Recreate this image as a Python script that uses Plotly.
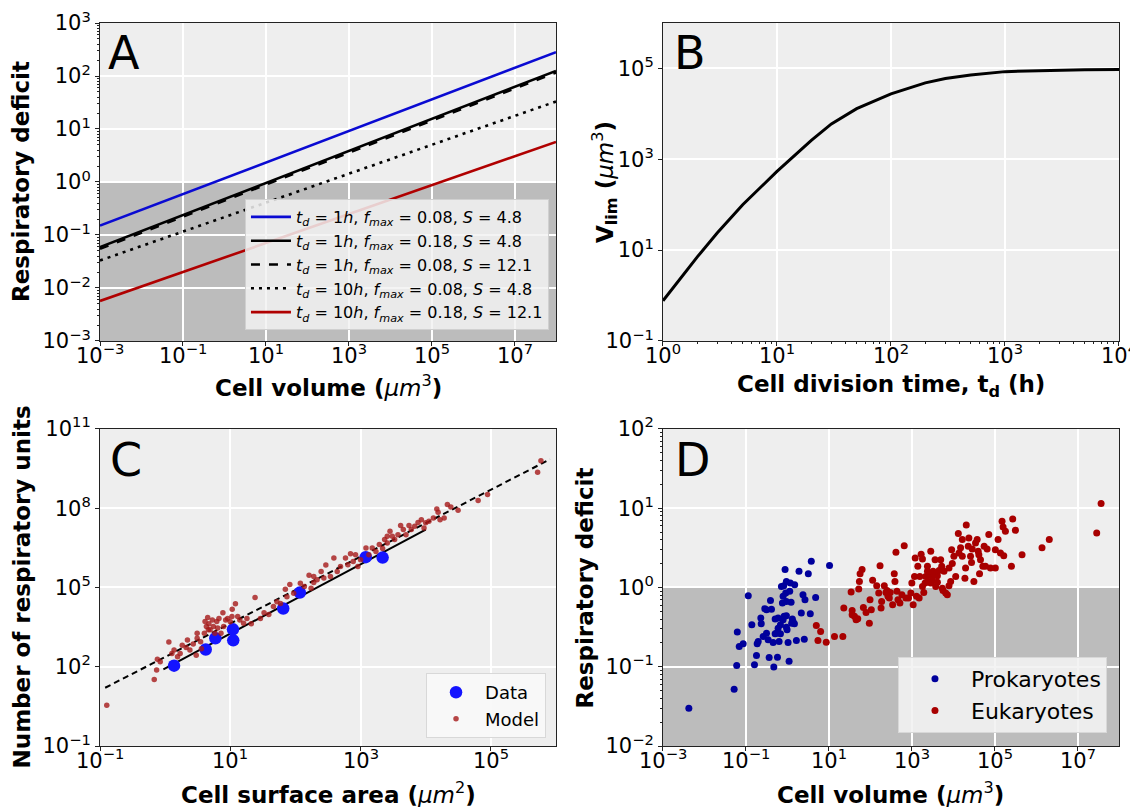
import math
import plotly.graph_objects as go

# ---------------- Panel A : respiratory deficit vs cell volume (straight lines in log-log)
vol_ends = [1e-3, 1e8]
def_td1_f008_s48 = [0.15, 282]
def_td1_f018_s48 = [0.059, 125]
def_td1_f008_s121 = [0.055, 116]
def_td10_f008_s48 = [0.033, 33]
def_td10_f018_s121 = [0.0057, 5.7]

# ---------------- Panel B : V_lim vs division time
td_hours = [1, 2, 3, 5, 10, 20, 30, 50, 100, 200, 300, 500, 1000, 2000, 3000, 5000, 10000]
v_lim = [0.77, 7.1, 24, 100, 540, 2600, 6000, 13000, 27500, 48000, 60000, 72000,
         85000, 90000, 91000, 94000, 95000]

# ---------------- Panel C : respiratory units vs surface area
data_area = [1.37, 4.2, 5.9, 11, 11.1, 65, 117, 1200, 2180]
data_units = [110, 450, 1200, 2600, 1000, 16000, 64000, 1.4e6, 1.35e6]

model_area = [0.127, 0.68, 0.74, 0.76, 0.84, 1.14, 1.37, 1.55, 1.7, 1.83, 2.2, 2.4, 2.7, 3.0,
              3.1, 3.5, 3.6, 4.0, 4.3, 4.5, 4.7, 4.9, 5.3, 5.5, 5.8, 6.2, 6.7, 7.2, 7.7, 8.5,
              9.1, 10, 10.7, 12, 13, 14, 16, 18, 21, 24, 29, 33, 39, 46, 52, 59, 70, 74, 82,
              94, 119, 137, 162, 174, 191, 215, 248, 273, 293, 345, 389, 438, 492, 587, 638,
              701, 771, 837, 910, 1000, 1210, 1340, 1510, 1720, 1940, 2180, 2340, 2570, 2830,
              3070, 3330, 3750, 4120, 4530, 4980, 5540, 6010, 6780, 7620, 8570, 9420, 10000,
              11200, 13100, 14800, 15500, 16600, 19200, 21500, 24300, 31400, 63800, 89000,
              522000, 587000, 4.1, 4.6, 6.4, 7.9, 10.6, 3.1, 2.1, 1.27, 191, 2570]
model_units = [3.5, 33, 75, 190, 155, 860, 430, 240, 320, 650, 1030, 430, 730, 270, 1200, 890,
               480, 1850, 3300, 7300, 4200, 2500, 5900, 3300, 1850, 5100, 6700, 1850, 11000,
               5900, 6700, 5000, 15000, 24000, 7900, 5900, 4400, 6700, 4200, 42000, 6700,
               11000, 9400, 19000, 29000, 25000, 86000, 45000, 130000, 61000, 146000, 110000,
               290000, 94000, 155000, 195000, 406000, 226000, 705000, 262000, 1.3e6, 406000,
               627000, 1.3e6, 726000, 1.9e6, 970000, 1.74e6, 627000, 1.12e6, 3.1e6, 1.74e6,
               3.1e6, 2.3e6, 4.2e6, 3.0e6, 6.5e6, 4.8e6, 1.34e7, 8.6e6, 6.5e6, 1.0e7, 2.2e7,
               1.55e7, 1.0e7, 2.2e7, 1.55e7, 2.07e7, 2.9e7, 3.7e7, 1.8e7, 2.8e7, 3.2e7, 4.3e7,
               9.4e7, 7.0e7, 3.7e7, 4.3e7, 1.38e8, 1.12e8, 8.4e7, 1.95e8, 3.3e8, 2.3e9, 6.3e9,
               5100, 2500, 2900, 3300, 7900, 1850, 540, 320, 262000, 8.6e6]

fit_all_area = [0.12, 8.1e5]
fit_all_units = [16, 7.1e9]
fit_data_area = [0.94, 1e4]
fit_data_units = [80, 1.55e7]

# ---------------- Panel D : respiratory deficit of organisms
prok_volume = [0.0042, 0.052, 0.060, 0.062, 0.069, 0.086, 0.114, 0.139, 0.161, 0.18, 0.187,
               0.198, 0.229, 0.234, 0.261, 0.286, 0.314, 0.364, 0.392, 0.414, 0.454, 0.471,
               0.507, 0.546, 0.577, 0.598, 0.632, 0.681, 0.719, 0.76, 0.789, 0.834, 0.881,
               0.914, 0.948, 0.984, 1.04, 1.10, 1.14, 1.18, 1.23, 1.32, 1.37, 1.50, 1.65,
               1.91, 2.17, 2.38, 2.56, 2.66, 3.2, 3.57, 3.78, 4.81, 10.4, 0.948, 0.818,
               0.681, 0.507, 0.344, 0.948, 1.27, 1.48, 0.948, 0.314, 0.789, 0.598]
prok_deficit = [0.030, 0.052, 0.104, 0.274, 0.18, 0.195, 0.787, 0.338, 0.106, 0.139, 0.195,
                0.208, 0.411, 0.348, 0.241, 0.54, 0.265, 0.131, 0.687, 0.533, 0.202, 0.099,
                0.399, 0.265, 0.132, 0.307, 0.208, 0.338, 1.03, 0.635, 0.773, 0.432, 1.68,
                0.851, 0.316, 0.292, 0.202, 0.117, 0.893, 1.14, 0.649, 0.399, 0.373, 1.08,
                0.214, 1.6, 0.475, 0.811, 0.223, 0.70, 1.49, 0.466, 2.14, 0.75, 1.9, 0.44,
                1.05, 0.26, 0.26, 0.219, 1.19, 0.355, 0.348, 0.667, 0.524, 0.392, 0.411]

euk_volume = [4.99, 6.34, 5.47, 8.67, 13.7, 21.8, 23, 34.5, 36.5, 36.5, 41.5, 45.5, 49.9, 52.7,
              54.7, 56.8, 63.4, 68.2, 79.1, 95, 98.6, 106, 114, 143, 160, 172, 182, 188, 218,
              239, 253, 267, 288, 304, 346, 379, 394, 416, 440, 465, 519, 579, 659, 723, 838,
              953, 1007, 1084, 1167, 1211, 1303, 1403, 1567, 1687, 1816, 1954, 2104, 2183,
              2393, 2529, 2723, 2877, 3155, 3459, 3656, 3793, 4159, 4560, 5000, 5284, 5689,
              6012, 6592, 7228, 7925, 8690, 9183, 9528, 10400, 11500, 13300, 15100, 16600,
              19200, 20700, 23900, 26200, 27700, 28800, 31600, 34600, 37900, 40100, 43200,
              45600, 51900, 55800, 60100, 65900, 72300, 79300, 104000, 121000, 138000,
              151000, 160000, 166000, 182000, 254000, 273000, 317000, 458000, 1.39e6, 2.08e6,
              2.9e7, 3.7e7, 2877, 3273, 2393, 4159, 1510, 1816, 5483, 19900, 41600, 104000,
              16600, 7925, 13800, 23100]
euk_deficit = [0.332, 0.279, 0.214, 0.204, 0.241, 0.241, 0.55, 0.875, 0.514, 0.453, 0.432,
               0.392, 0.403, 0.955, 1.19, 1.49, 1.68, 0.56, 0.484, 0.355, 0.70, 0.524, 1.23,
               1.05, 0.851, 1.88, 0.55, 0.667, 1.05, 0.867, 0.918, 0.773, 0.735, 0.867, 0.605,
               1.49, 1.19, 2.78, 0.893, 0.70, 0.635, 0.811, 3.37, 0.735, 0.735, 0.851, 1.14,
               0.605, 1.38, 2.35, 0.773, 1.85, 1.38, 2.62, 2.29, 0.867, 1.14, 1.38, 1.85, 1.19,
               1.45, 2.86, 1.25, 1.45, 2.24, 1.03, 1.41, 1.64, 2.24, 1.85, 0.918, 1.6, 0.851,
               0.811, 1.05, 1.19, 3.0, 2.0, 2.47, 1.38, 4.79, 3.16, 4.02, 1.31, 6.15, 4.22,
               2.47, 2.07, 3.06, 1.19, 3.65, 4.02, 2.86, 1.49, 2.24, 1.85, 3.31, 1.85, 3.06,
               4.65, 1.76, 3.0, 4.02, 2.72, 6.85, 5.81, 2.52, 5.12, 1.85, 7.33, 5.27, 2.59,
               3.16, 4.02, 4.88, 11.5, 1.14, 1.6, 1.6, 1.16, 0.735, 1.03, 0.98, 1.76, 2.59,
               1.76, 2.47, 1.76, 2.72, 3.31]

DEFICIT_THRESHOLD = 1.0

# axis ranges (log10 units) and tick exponents
A_XRANGE, A_YRANGE = [-3, 8], [-3, 3]
B_XRANGE, B_YRANGE = [0, 4], [-1, 6]
C_XRANGE, C_YRANGE = [-1, 6], [-1, 11]
D_XRANGE, D_YRANGE = [-3, 8], [-2, 2]
A_XTICKS, A_YTICKS = [-3, -1, 1, 3, 5, 7], [-3, -2, -1, 0, 1, 2, 3]
B_XTICKS, B_YTICKS = [0, 1, 2, 3, 4], [-1, 1, 3, 5]
C_XTICKS, C_YTICKS = [-1, 1, 3, 5], [-1, 2, 5, 8, 11]
D_XTICKS, D_YTICKS = [-3, -1, 1, 3, 5, 7], [-2, -1, 0, 1, 2]

# ---------------- styling helpers
FONT = "DejaVu Sans"
TICK_FONT = dict(family=FONT, size=21, color="black")
TITLE_FONT = dict(family=FONT, size=23, color="black")


def pow_label(e):
    s = str(e).replace("-", "\u2212")
    return f"10<sup>{s}</sup>"


def log_axis(rng, exps, domain, anchor, minor=False, labels=True):
    ax = dict(
        type="log", range=rng, domain=domain, anchor=anchor, automargin=False,
        tickvals=[10 ** e for e in exps], ticktext=[pow_label(e) for e in exps],
        showticklabels=labels, ticklabeloverflow="allow",
        showgrid=True, gridcolor="white", gridwidth=1.6,
        showline=True, linecolor="#222222", linewidth=1, mirror=True,
        ticks="outside", ticklen=4, tickcolor="#222222", tickfont=TICK_FONT,
        zeroline=False,
    )
    if minor:
        ax["minor"] = dict(ticks="outside", ticklen=2, tickcolor="#222222",
                           dtick="D1", showgrid=False)
    return ax


fig = go.Figure()

# Panel A lines
a_specs = [
    (def_td1_f008_s48, "#0a0ad2", "solid", "1", "0.08", "4.8"),
    (def_td1_f018_s48, "black", "solid", "1", "0.18", "4.8"),
    (def_td1_f008_s121, "black", "dash", "1", "0.08", "12.1"),
    (def_td10_f008_s48, "black", "3px,5px", "10", "0.08", "4.8"),
    (def_td10_f018_s121, "#b00000", "solid", "10", "0.18", "12.1"),
]
for yv, col, dash, td, fm, s in a_specs:
    name = (f"<i>t<sub>d</sub></i> = {td}<i>h</i>, <i>f<sub>max</sub></i> = {fm}, "
            f"<i>S</i> = {s}")
    fig.add_trace(go.Scatter(x=vol_ends, y=yv, mode="lines", name=name,
                             line=dict(color=col, width=2.6, dash=dash),
                             xaxis="x", yaxis="y", legend="legend"))

# Panel B
fig.add_trace(go.Scatter(x=td_hours, y=v_lim, mode="lines", showlegend=False,
                         line=dict(color="black", width=3), xaxis="x2", yaxis="y2"))

# Panel C
fig.add_trace(go.Scatter(x=fit_all_area, y=fit_all_units, mode="lines", showlegend=False,
                         line=dict(color="black", width=2, dash="6px,4px"),
                         xaxis="x3", yaxis="y3"))
fig.add_trace(go.Scatter(x=fit_data_area, y=fit_data_units, mode="lines", showlegend=False,
                         line=dict(color="black", width=2), xaxis="x3", yaxis="y3"))
fig.add_trace(go.Scatter(x=data_area, y=data_units, mode="markers", name="Data",
                         marker=dict(color="#1414ff", size=12.5),
                         xaxis="x3", yaxis="y3", legend="legend2"))
fig.add_trace(go.Scatter(x=model_area, y=model_units, mode="markers", name="Model",
                         marker=dict(color="rgba(165,25,25,0.8)", size=5.5),
                         xaxis="x3", yaxis="y3", legend="legend2"))

# Panel D
fig.add_trace(go.Scatter(x=prok_volume, y=prok_deficit, mode="markers", name="Prokaryotes",
                         marker=dict(color="#00009c", size=7),
                         xaxis="x4", yaxis="y4", legend="legend3"))
fig.add_trace(go.Scatter(x=euk_volume, y=euk_deficit, mode="markers", name="Eukaryotes",
                         marker=dict(color="#a80000", size=7),
                         xaxis="x4", yaxis="y4", legend="legend3"))

# shaded region (deficit < 1), drawn under the grid, positioned as a fraction of the axis
shapes = []
for xref, yref, yr in (("x", "y", A_YRANGE), ("x4", "y4", D_YRANGE)):
    frac = (math.log10(DEFICIT_THRESHOLD) - yr[0]) / (yr[1] - yr[0])
    shapes.append(dict(type="rect", xref=xref + " domain", yref=yref + " domain",
                       x0=0, x1=1, y0=0, y1=frac,
                       fillcolor="#bcbcbc", line=dict(width=0), layer="below"))

dom_left = [0.0, 0.4475]
dom_right = [0.5525, 1.0]
dom_top = [0.5602, 1.0]
dom_bot = [0.0, 0.4385]

vol_title = "<b>Cell volume (</b><i>\u03bcm</i><sup>3</sup><b>)</b>"

annotations = []
# x tick labels and x titles (placed just under each panel)
for xa, ya, xr, xt, title, tshift in (
        ("x", "y", A_XRANGE, A_XTICKS, vol_title, -28),
        ("x2", "y2", B_XRANGE, B_XTICKS, "<b>Cell division time, t<sub>d</sub> (h)</b>", -28),
        ("x3", "y3", C_XRANGE, C_XTICKS,
         "<b>Cell surface area (</b><i>\u03bcm</i><sup>2</sup><b>)</b>", -30),
        ("x4", "y4", D_XRANGE, D_XTICKS, vol_title, -30)):
    for e in xt:
        annotations.append(dict(text=pow_label(e), xref=f"{xa} domain", yref=f"{ya} domain",
                                x=(e - xr[0]) / (xr[1] - xr[0]), y=0, xanchor="center",
                                yanchor="top", yshift=3, showarrow=False, font=TICK_FONT))
    annotations.append(dict(text=title, xref=f"{xa} domain", yref=f"{ya} domain", x=0.5, y=0,
                            xanchor="center", yanchor="top", yshift=tshift, showarrow=False,
                            font=TITLE_FONT))

# y titles (rotated), centred on each panel's height
for xa, ya, xshift, title in (
        ("x", "y", -79, "<b>Respiratory deficit</b>"),
        ("x2", "y2", -58, "<b>V<sub>lim</sub> (</b><i>\u03bcm</i><sup>3</sup><b>)</b>"),
        ("x3", "y3", -78, "<b>Number of respiratory units</b>"),
        ("x4", "y4", -78, "<b>Respiratory deficit</b>")):
    annotations.append(dict(text=title, xref=f"{xa} domain", yref=f"{ya} domain", x=0,
                            y=0.5, xanchor="center", yanchor="middle", xshift=xshift,
                            textangle=-90, showarrow=False, font=TITLE_FONT))

for t, x, y in (("A", 0.006, 0.958), ("B", 0.5613, 0.958),
                ("C", 0.0079, 0.3949), ("D", 0.5623, 0.3949)):
    annotations.append(dict(text=t, x=x, y=y, xref="paper", yref="paper", xanchor="left",
                            yanchor="middle", showarrow=False,
                            font=dict(family=FONT, size=46, color="black")))

layout = dict(
    width=1138, height=807,
    # the page body adds an 8px offset, compensated here
    margin=dict(l=92, r=27, t=15, b=69, autoexpand=False),
    paper_bgcolor="white", plot_bgcolor="#eeeeee",
    font=dict(family=FONT, color="black"),
    xaxis=log_axis(A_XRANGE, A_XTICKS, dom_left, "y", labels=False),
    yaxis=log_axis(A_YRANGE, A_YTICKS, dom_top, "x", minor=True),
    xaxis2=log_axis(B_XRANGE, B_XTICKS, dom_right, "y2", minor=True, labels=False),
    yaxis2=log_axis(B_YRANGE, B_YTICKS, dom_top, "x2"),
    xaxis3=log_axis(C_XRANGE, C_XTICKS, dom_left, "y3", labels=False),
    yaxis3=log_axis(C_YRANGE, C_YTICKS, dom_bot, "x3"),
    xaxis4=log_axis(D_XRANGE, D_XTICKS, dom_right, "y4", labels=False),
    yaxis4=log_axis(D_YRANGE, D_YTICKS, dom_bot, "x4", minor=True),
    shapes=shapes,
    annotations=annotations,
    legend=dict(x=0.4406, y=0.5754, xanchor="right", yanchor="bottom", itemwidth=40,
                bgcolor="rgba(242,242,242,0.85)", bordercolor="#d0d0d0", borderwidth=1,
                font=dict(family=FONT, size=16, color="black")),
    legend2=dict(x=0.4377, y=0.011, xanchor="right", yanchor="bottom", itemwidth=48,
                 bgcolor="rgba(248,248,248,0.9)", bordercolor="#d8d8d8", borderwidth=1,
                 font=dict(family=FONT, size=18, color="black")),
    legend3=dict(x=0.9882, y=0.018, xanchor="right", yanchor="bottom", itemwidth=62,
                 bgcolor="rgba(242,242,242,0.9)", bordercolor="#d8d8d8", borderwidth=1,
                 font=dict(family=FONT, size=22, color="black")),
)
fig.update_layout(**layout)

fig.write_html("out.html")
